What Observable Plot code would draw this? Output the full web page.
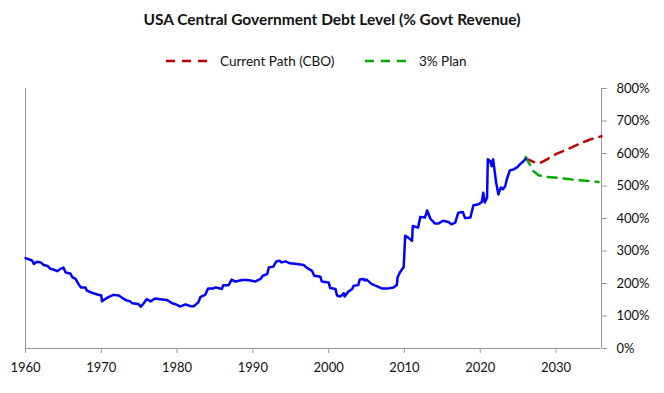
<!DOCTYPE html>
<html>
<head>
<meta charset="utf-8">
<script src="https://cdn.jsdelivr.net/npm/d3@7"></script>
<script src="https://cdn.jsdelivr.net/npm/@observablehq/plot@0.6"></script>
<style>
  html, body { margin: 0; padding: 0; background: #fff; }
  #wrap { width: 664px; height: 393px; position: relative; font-family: Lato, "Open Sans", sans-serif; color: #111; }
  #title { position: absolute; top: 10px; left: 0; width: 664px; text-align: center; font-weight: bold; font-size: 15.5px; }
  .leg { position: absolute; top: 53px; font-size: 13.5px; display: flex; align-items: center; }
  .leg svg { margin-right: 11px; }
  #chart { position: absolute; top: 75px; left: 0; }
</style>
</head>
<body>
<div id="wrap">
  <div id="title">USA Central Government Debt Level (% Govt Revenue)</div>
  <div class="leg" style="left:166px"><svg width="43" height="6"><line x1="0" y1="3" x2="43" y2="3" stroke="#c00000" stroke-width="2.5" stroke-dasharray="9,7"/></svg>Current Path (CBO)</div>
  <div class="leg" style="left:365px"><svg width="43" height="6"><line x1="0" y1="3" x2="43" y2="3" stroke="#00aa00" stroke-width="2.5" stroke-dasharray="9,7"/></svg>3% Plan</div>
  <div id="chart"></div>
</div>
<script>
const histYears = [1960.0,1960.5,1960.9,1961.1,1961.5,1962.0,1962.4,1962.9,1963.3,1963.7,1964.2,1964.6,1965.0,1965.3,1965.9,1966.2,1966.6,1967.0,1967.3,1967.9,1968.1,1968.8,1969.5,1970.0,1970.1,1970.5,1971.0,1971.6,1972.3,1972.7,1973.2,1973.8,1974.1,1974.9,1975.2,1975.6,1976.0,1976.5,1977.1,1978.0,1978.7,1979.3,1980.0,1980.4,1981.1,1981.8,1982.2,1982.8,1983.1,1983.7,1984.1,1984.8,1985.1,1985.9,1986.1,1986.8,1987.2,1987.7,1988.6,1989.2,1989.7,1990.3,1991.0,1991.3,1991.9,1992.1,1992.7,1993.1,1993.5,1993.8,1994.3,1994.9,1995.8,1996.7,1997.1,1997.8,1998.1,1998.9,1999.1,2000.0,2000.2,2000.9,2001.1,2001.5,2001.7,2002.0,2002.1,2002.6,2003.1,2003.3,2003.9,2004.1,2004.6,2004.8,2005.0,2005.7,2006.4,2007.0,2007.9,2008.6,2009.0,2009.1,2009.4,2009.9,2010.1,2010.5,2011.0,2011.1,2011.8,2012.1,2012.7,2013.0,2013.4,2014.0,2014.5,2015.1,2015.8,2016.2,2016.7,2017.1,2017.7,2018.0,2018.7,2019.1,2019.8,2020.2,2020.4,2020.6,2020.9,2021.0,2021.3,2021.5,2021.7,2021.9,2022.1,2022.4,2022.7,2023.0,2023.3,2023.5,2023.9,2024.4,2024.9,2025.3,2025.7,2026.0];
const histValues = [278,274,270,260,267,265,257,254,245,243,238,245,249,234,231,219,214,198,188,188,178,171,166,163,145,152,159,165,163,157,149,145,139,137,129,139,152,145,154,151,149,140,134,129,136,130,130,142,159,165,185,185,188,183,195,195,212,206,211,211,209,206,214,224,229,249,252,268,270,265,268,262,260,257,249,239,224,221,206,203,186,183,163,160,163,170,160,175,183,193,195,212,214,209,212,198,191,185,185,188,196,219,234,251,347,341,331,377,372,405,403,425,400,385,385,393,389,382,387,418,420,401,403,441,444,451,479,449,464,582,577,561,582,546,510,474,495,490,500,520,548,551,558,568,576,584];

const cboYears = [2026.0,2026.6,2027.0,2027.9,2028.8,2029.9,2031.4,2032.9,2034.5,2036.0];
const cboValues = [584,579,574,571,582,597,612,628,643,653];

const planYears = [2026.0,2026.5,2027.0,2027.7,2028.8,2030.5,2032.7,2034.5,2035.6];
const planValues = [589,568,546,533,528,525,518,515,512];

const yTicks = [0,100,200,300,400,500,600,700,800];
const xTicks = [1960,1970,1980,1990,2000,2010,2020,2030];

const hist = histYears.map((y,i)=>({year:y, value:histValues[i]}));
const cbo = cboYears.map((y,i)=>({year:y, value:cboValues[i]}));
const plan = planYears.map((y,i)=>({year:y, value:planValues[i]}));

const axisColor = "#999";
const chart = Plot.plot({
  width: 664,
  height: 318,
  marginTop: 13,
  marginBottom: 45,
  marginLeft: 25,
  marginRight: 63,
  style: {fontFamily: "Lato, 'Open Sans', sans-serif", fontSize: "13px", color: "#111", background: "white"},
  x: {domain: [1960, 2036]},
  y: {domain: [0, 800]},
  marks: [
    Plot.ruleX([1960], {stroke: axisColor}),
    Plot.ruleX([2036], {stroke: axisColor}),
    Plot.ruleY([0], {stroke: axisColor}),
    Plot.axisX({ticks: xTicks, tickFormat: d => String(d), tickSize: 5, tickPadding: 9, stroke: axisColor, label: null, fill: "#111"}),
    Plot.axisY({anchor: "right", ticks: yTicks, tickFormat: d => d + "%", tickSize: 5, tickPadding: 10, stroke: axisColor, label: null, fill: "#111"}),
    Plot.line(cbo, {x: "year", y: "value", stroke: "#c00000", strokeWidth: 2.5, strokeDasharray: "9,7"}),
    Plot.line(plan, {x: "year", y: "value", stroke: "#00aa00", strokeWidth: 2.5, strokeDasharray: "9,7"}),
    Plot.line(hist, {x: "year", y: "value", stroke: "#0000ff", strokeWidth: 2.5})
  ]
});
document.getElementById("chart").appendChild(chart);
</script>
</body>
</html>
